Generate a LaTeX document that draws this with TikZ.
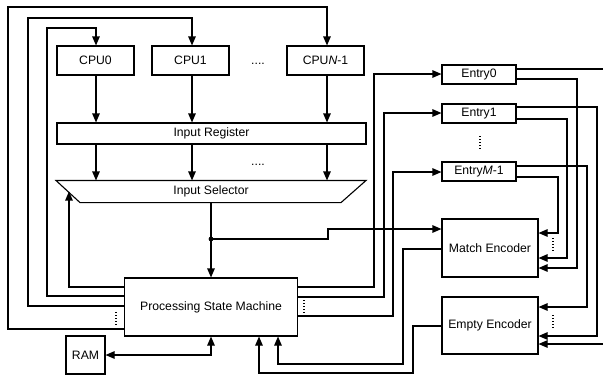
\documentclass[tikz,border=0pt]{standalone}
\usepackage{fontspec}
\setmainfont{Liberation Sans}
\usetikzlibrary{arrows.meta}
\begin{document}
\begin{tikzpicture}[x=1pt,y=-1pt,line width=1.1pt,
  blk/.style={draw,inner sep=0pt,font=\fontsize{12.2}{14}\selectfont},
  lbl/.style={inner sep=0pt,font=\fontsize{12.2}{14}\selectfont},
  arr/.style={-{Triangle[length=9pt,width=7.5pt]}},
  biarr/.style={{Triangle[length=9pt,width=7.5pt]}-{Triangle[length=9pt,width=7.5pt]}},
  dotline/.style={line width=1.2pt,dash pattern=on 1.2pt off 1.8pt}]
\useasboundingbox (0,0) rectangle (603,375);

% processor blocks
\node[blk,minimum width=77pt,minimum height=29pt] (cpu0) at (95.5,60.5) {CPU0};
\node[blk,minimum width=77pt,minimum height=29pt] (cpu1) at (190.5,60.5) {CPU1};
\node[blk,minimum width=77pt,minimum height=29pt] (cpun) at (325.5,60.5) {CPU\textit{N}-1};
\node[lbl] (hdots1) at (258,64) {....};

% input register and selector
\node[blk,minimum width=309pt,minimum height=21pt] (inreg) at (211.5,133.5) {Input Register};
\node[lbl] (hdots2) at (258,165) {....};
\node[lbl,minimum width=309pt,minimum height=21pt] (sel) at (211,191.5) {Input Selector};
\draw (sel.north west) -- (sel.north east) -- ([xshift=-25pt]sel.south east)
  -- ([xshift=24pt]sel.south west) -- cycle;

% state machine and memory
\node[blk,minimum width=173pt,minimum height=58pt] (psm) at (211,307) {Processing State Machine};
\node[blk,minimum width=39pt,minimum height=38pt] (ram) at (85.5,355) {RAM};

% table entries
\node[blk,minimum width=74pt,minimum height=19pt] (entry0) at (479,74.5) {Entry0};
\node[blk,minimum width=74pt,minimum height=19pt] (entry1) at (479,113.5) {Entry1};
\node[blk,minimum width=74pt,minimum height=19pt] (entrym) at (479,171.5) {Entry\textit{M}-1};
\draw[dotline] (480,136) -- (480,150);

% encoders
\node[blk,minimum width=96pt,minimum height=58pt] (match) at (490,248) {Match Encoder};
\node[blk,minimum width=96pt,minimum height=57pt] (empty) at (490,325.5) {Empty Encoder};

% CPU -> register -> selector
\foreach \c/\x in {cpu0/96,cpu1/192,cpun/327}{
  \draw[arr] (\c.south -| \x,0) -- (inreg.north -| \x,0);
  \draw[arr] (inreg.south -| \x,0) -- (sel.north -| \x,0);
}

% feedback loops from the state machine to the CPUs and selector
\draw[arr] (psm.west |- 0,329) -| (8,7) -| (cpun.north -| 327,0);
\draw[arr] (psm.west |- 0,306) -| (28,18) -| (cpu1.north -| 192,0);
\draw[arr] (psm.west |- 0,296) -| (47,28) -| (cpu0.north -| 96,0);
\draw[arr] (psm.west |- 0,287) -| (sel.west -| 69,0);
\draw[dotline] (116,312) -- (116,326);

% selector output
\draw[arr] (sel.south) -- (psm.north);
\coordinate (jn) at (211,239);
\fill (jn) circle (2.4pt);
\draw[arr] (jn) -- (328,239) -- (328,229) -- (match.west |- 0,229);

% memory access
\draw[biarr] (ram.east) -| (psm.south);

% state machine -> entries
\draw[arr] (psm.east |- 0,287) -| (374,74) -- (entry0.west |- 0,74);
\draw[arr] (psm.east |- 0,297) -| (384,113) -- (entry1.west |- 0,113);
\draw[arr] (psm.east |- 0,316) -| (393,172) -- (entrym.west |- 0,172);
\draw[dotline] (304,300) -- (304,314);

% entries -> encoders
\coordinate (eout) at (603,69);
\coordinate (ein) at (603,344);
\draw (entry0.east |- eout) -- (eout);
\draw[arr] (entry0.east |- 0,79) -| (577,268) -- (match.east |- 0,268);
\draw[arr] (entry1.east |- 0,107) -| (597,336) -- (empty.east |- 0,336);
\draw[arr] (entry1.east |- 0,119) -| (567,258) -- (match.east |- 0,258);
\draw[arr] (entrym.east |- 0,166) -| (587,307) -- (empty.east |- 0,307);
\draw[arr] (entrym.east |- 0,177) -| (558,233) -- (match.east |- 0,233);
\draw[arr] (ein) -- (empty.east |- ein);
\draw[dotline] (553,238) -- (553,252);
\draw[dotline] (553,315) -- (553,329);

% encoders -> state machine
\draw[arr] (match.west |- 0,249) -| (403,364) -| ([xshift=67pt]psm.south);
\draw[arr] (empty.west |- 0,326) -| (413,373) -| ([xshift=48pt]psm.south);
\end{tikzpicture}
\end{document}
